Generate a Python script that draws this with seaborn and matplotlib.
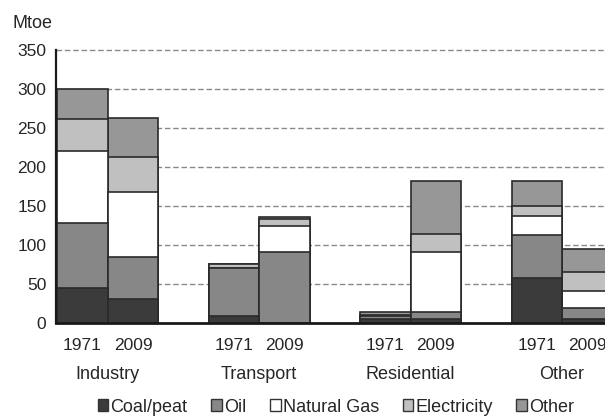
import numpy as np
import pandas as pd
import seaborn as sns
from matplotlib import pyplot as plt
from matplotlib.patches import Patch

sns.set_style('white')
plt.rcParams['font.family'] = ['Liberation Sans', 'DejaVu Sans']

# data (Mtoe)
sectors = ['Industry', 'Transport', 'Residential', 'Other']
years = ['1971', '2009']
fuels = ['Coal/peat', 'Oil', 'Natural Gas', 'Electricity', 'Other']
xpos = [0, 1, 3, 4, 6, 7, 9, 10]

coal = [45, 31, 9, 0.5, 5, 5, 58, 5]
oil = [83, 54, 61, 91, 4, 9.5, 55, 14]
gas = [92, 83, 0.5, 33, 0.5, 77, 24, 22]
elec = [41, 45, 5, 9, 0.5, 22, 13, 25]
other = [39, 50, 0.5, 2, 4, 69, 32, 29]

colors = ['#3b3b3b', '#878787', '#ffffff', '#c0c0c0', '#979797']

# cumulative tops, drawn from the tallest down so lower pieces sit on top
series = [coal, oil, gas, elec, other]
cum = np.cumsum(np.array(series), axis=0)
rows = []
for i, f in enumerate(fuels):
    for j, x in enumerate(xpos):
        rows.append({'fuel': f, 'x': x, 'top': cum[i, j]})
df = pd.DataFrame(rows)

fig = plt.figure(figsize=(6.05, 4.19), dpi=100)
ax = fig.add_axes([0.0926, 0.229, 0.9074, 0.652])

for i in range(len(fuels) - 1, -1, -1):
    sub = df[df['fuel'] == fuels[i]]
    sns.barplot(data=sub, x='x', y='top', native_scale=True, width=1.0,
                color=colors[i], saturation=1, edgecolor='#2a2a2a',
                linewidth=1.2, errorbar=None, ax=ax, zorder=3)

ax.set_xlim(-0.525, 10.35)
ax.set_ylim(0, 350)
ax.set_yticks(np.arange(0, 351, 50))
for yv in np.arange(50, 351, 50):
    ax.axhline(yv, color='#8a8a8a', linestyle=(0, (4, 2)), linewidth=1.0,
               zorder=1, clip_on=False)

fs = 12.5
fs2 = 13
ax.set_xticks(xpos)
ax.set_xticklabels(years * 4)
ax.tick_params(axis='x', length=0, pad=11, labelsize=fs)
ax.tick_params(axis='y', length=4, width=1, direction='out', color='#555555',
               labelsize=fs, pad=3)
ax.set_xlabel('')
ax.set_ylabel('')

for s in ['top', 'right']:
    ax.spines[s].set_visible(False)
ax.spines['left'].set_color('#1a1a1a')
ax.spines['left'].set_linewidth(1.6)
ax.spines['bottom'].set_color('#1a1a1a')
ax.spines['bottom'].set_linewidth(2)
ax.spines['left'].set_zorder(5)
ax.spines['bottom'].set_zorder(5)

for k, name in enumerate(sectors):
    ax.text(xpos[2 * k] + 0.5, -0.19, name, transform=ax.get_xaxis_transform(),
            ha='center', va='center', fontsize=fs2)

fig.text(12 / 605, 1 - 23 / 419, 'Mtoe', ha='left', va='center', fontsize=fs2)

handles = [Patch(facecolor=c, edgecolor='#333333', linewidth=1) for c in colors]
fig.legend(handles, fuels, loc='center', bbox_to_anchor=(336 / 605, 1 - 407 / 419),
           ncol=5, frameon=False, fontsize=fs2, handlelength=0.6,
           handleheight=0.6, handletextpad=0.12, columnspacing=1.3,
           borderpad=0, borderaxespad=0)

fig.savefig('out.png', dpi=100)
